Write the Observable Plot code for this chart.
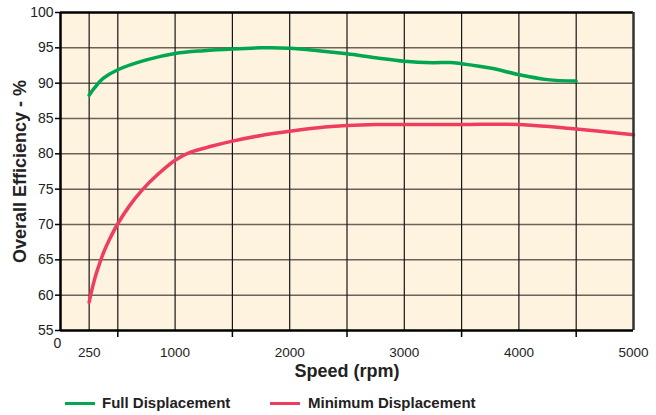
<!DOCTYPE html>
<html><head><meta charset="utf-8">
<script src="https://cdn.jsdelivr.net/npm/d3@7"></script>
<script src="https://cdn.jsdelivr.net/npm/@observablehq/plot@0.6"></script>
<style>
body{margin:0;background:#fff;}
#wrap{position:relative;width:656px;height:415px;overflow:hidden;font-family:"Liberation Sans",Arial,Helvetica,sans-serif;}
#chart{position:absolute;left:0;top:0;}
.lg{position:absolute;top:394px;height:18px;font-weight:bold;font-size:15px;line-height:18px;color:#222;}
.sw{position:absolute;width:30px;height:3px;top:8px;}
</style></head>
<body><div id="wrap"><div id="chart"></div>
<div class="lg" style="left:65px"><span class="sw" id="sw0" style="left:0"></span><span style="position:absolute;left:37px;white-space:nowrap" id="lt0"></span></div>
<div class="lg" style="left:270px"><span class="sw" id="sw1" style="left:0"></span><span style="position:absolute;left:38px;white-space:nowrap" id="lt1"></span></div>
</div>
<script>
const seriesNames = ["Full Displacement", "Minimum Displacement"];
const seriesColors = ["#00a650", "#ee3d5e"];
const speedFull = [250,300,375,500,750,1000,1250,1500,1750,2000,2250,2500,2750,3000,3250,3400,3500,3750,4000,4250,4500];
const effFull   = [88.3,89.4,90.7,91.9,93.3,94.2,94.6,94.85,95.0,94.95,94.6,94.15,93.6,93.1,92.9,92.93,92.75,92.15,91.2,90.5,90.3];
const speedMin = [250,270,300,331,375,425,496,600,708,850,1000,1130,1324,1500,1750,2000,2250,2500,2750,3000,3500,4000,4500,5000];
const effMin   = [59.0,60.5,62.4,64.0,66.0,67.8,70.0,72.6,74.8,77.1,79.1,80.2,81.1,81.8,82.6,83.2,83.7,84.0,84.15,84.15,84.15,84.15,83.5,82.7];
const yTicks = [55,60,65,70,75,80,85,90,95,100];
const xLabelTicks = [250,1000,2000,3000,4000,5000];
const xMinorTicks = [500,1500,2500,3500,4500];
const xGrid = [250,500,1000,1500,2000,2500,3000,3500,4000,4500];
const yGrid = [60,65,70,75,80,85,90,95];
const xLabel = "Speed (rpm)";
const yLabel = "Overall Efficiency - %";

const full = speedFull.map((s,i)=>({speed:s, eff:effFull[i]}));
const minD = speedMin.map((s,i)=>({speed:s, eff:effMin[i]}));
const narrow = "'Liberation Sans Narrow','Arial Narrow','Liberation Sans',Arial,sans-serif";

const chart = Plot.plot({
  width: 656, height: 390,
  marginLeft: 60, marginRight: 23, marginTop: 12, marginBottom: 60,
  style: {fontFamily: narrow, background: "transparent", color: "#222"},
  x: {domain: [0,5000]},
  y: {domain: [55,100]},
  marks: [
    Plot.frame({fill: "#fef3df", stroke: null}),
    Plot.ruleY(yGrid, {stroke: "#6b635a", strokeWidth: 1.5}),
    Plot.ruleX(xGrid, {stroke: "#161616", strokeWidth: 1.2}),
    Plot.line(full, {x: "speed", y: "eff", stroke: seriesColors[0], strokeWidth: 3.5, curve: "catmull-rom"}),
    Plot.line(minD, {x: "speed", y: "eff", stroke: seriesColors[1], strokeWidth: 3.5, curve: "catmull-rom"}),
    Plot.ruleY([100], {stroke: "#000", strokeWidth: 2.5}),
    Plot.ruleX([5000], {stroke: "#333", strokeWidth: 2.5}),
    Plot.ruleX([0], {stroke: "#000", strokeWidth: 2.5}),
    Plot.ruleY([55], {stroke: "#000", strokeWidth: 2.5}),
    Plot.axisY({ticks: yTicks, tickSize: 5, tickPadding: 2, fontSize: 14, label: null, stroke: "#000", strokeWidth: 1.5}),
    Plot.axisX({ticks: xLabelTicks, tickFormat: d3.format("d"), tickSize: 0, tickPadding: 17, fontSize: 13.5, label: null}),
    Plot.axisX({ticks: xMinorTicks, tickSize: 7, text: null, label: null, stroke: "#000", strokeWidth: 1.5}),
    Plot.text(["0"], {x: 0, y: 55, text: d => d, dx: -3, dy: 13, fontSize: 14, clip: false}),
    Plot.text([yLabel], {frameAnchor: "left", textAnchor: "middle", rotate: -90, dx: -40, text: d => d, fontSize: 18, fontWeight: "bold", fontFamily: "'Liberation Sans',Arial,sans-serif"}),
    Plot.text([xLabel], {frameAnchor: "bottom", dy: 46, text: d => d, fontSize: 18, fontWeight: "bold", fontFamily: "'Liberation Sans',Arial,sans-serif"})
  ]
});
document.getElementById("chart").appendChild(chart);
seriesNames.forEach((n,i)=>{
  document.getElementById("lt"+i).textContent = n;
  document.getElementById("sw"+i).style.background = seriesColors[i];
});
</script>
</body></html>
